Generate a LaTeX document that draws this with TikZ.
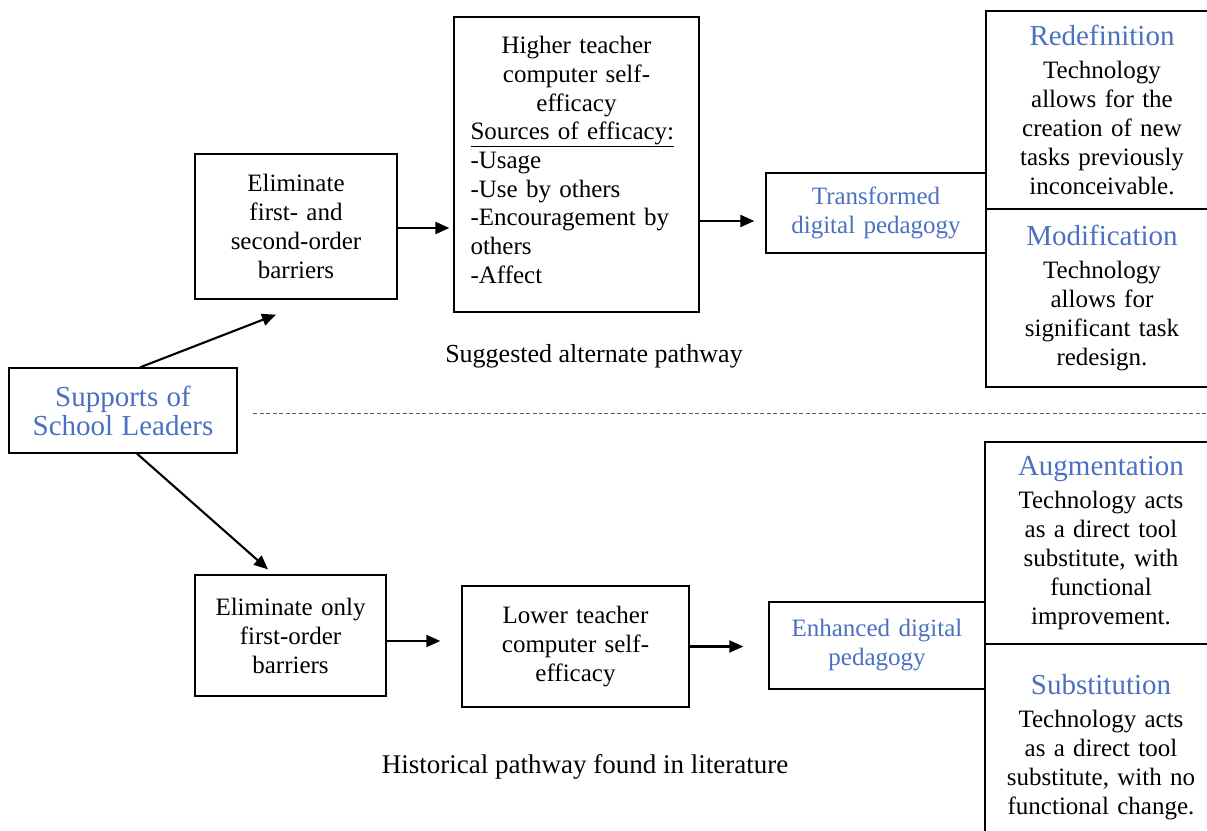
\documentclass[tikz,border=0pt]{standalone}
\usepackage{fontspec}
\setmainfont{Liberation Serif}
\usetikzlibrary{arrows.meta}
\definecolor{tblue}{RGB}{74,112,193}
\definecolor{dashgray}{RGB}{90,90,90}
\newcommand{\bodyfont}{\fontsize{25}{29}\selectfont}
\newcommand{\ttlfont}{\fontsize{29}{33}\selectfont\color{tblue}}
\begin{document}
\begin{tikzpicture}[x=1pt,y=-1pt,
  box/.style={draw, line width=1.3pt, inner sep=0pt, align=center, font=\bodyfont},
  arr/.style={line width=2.1pt, -{Triangle[length=14pt,width=12pt]}},
  lbl/.style={inner sep=0pt, font=\fontsize{26}{30}\selectfont}]
\useasboundingbox (0,0) rectangle (1207,830);
% top pathway
\node[box, minimum width=228pt, minimum height=85pt, text width=220pt] (sup) at (123,410.5)
  {\ttlfont Supports of\\School Leaders};
\node[box, minimum width=202pt, minimum height=145pt, text width=194pt] (e1) at (296,226.5)
  {Eliminate\\first- and\\second-order\\barriers};
\node[box, minimum width=245pt, minimum height=295pt, text width=212pt, align=left] (hi) at (576.5,164.5)
  {\fontsize{25}{28.7}\selectfont\centering Higher teacher\\computer self-\\efficacy\par
   \raggedright\underline{Sources of efficacy:}\\-Usage\\-Use by others\\-Encouragement by\\others\\-Affect\par\nointerlineskip\hbox{\rule{0pt}{9pt}}};
\node[box, minimum width=220pt, minimum height=80pt, text width=212pt] (tr) at (876,213)
  {\color{tblue}Transformed\\digital pedagogy};
\node[box, minimum width=232pt, minimum height=198pt, text width=224pt] (rd) at (1102,110)
  {{\ttlfont Redefinition}\\[4pt]Technology\\allows for the\\creation of new\\tasks previously\\inconceivable.};
\node[box, minimum width=232pt, minimum height=178pt, text width=224pt] (md) at (1102,298)
  {{\ttlfont Modification}\\[4pt]Technology\\allows for\\significant task\\redesign.};
\node[lbl] (sap) at (594,356) {Suggested alternate pathway};
% separator
\coordinate (dl) at (253,413);
\coordinate (dr) at (1207,413);
\draw[dashgray, line width=0.9pt, dash pattern=on 4pt off 2.5pt] (dl) -- (dr);
% bottom pathway
\node[box, minimum width=191pt, minimum height=121pt, text width=183pt] (eo) at (290.5,635.5)
  {Eliminate only\\first-order\\barriers};
\node[box, minimum width=227pt, minimum height=121pt, text width=219pt] (lo) at (575.5,646.5)
  {Lower teacher\\computer self-\\efficacy};
\node[box, minimum width=216pt, minimum height=87pt, text width=208pt] (en) at (877,645.5)
  {\color{tblue}Enhanced digital\\pedagogy};
\node[box, minimum width=232pt, minimum height=202pt, text width=224pt] (au) at (1101,543)
  {{\ttlfont Augmentation}\\[4pt]Technology acts\\as a direct tool\\substitute, with\\functional\\improvement.};
\node[box, minimum width=232pt, minimum height=206pt, text width=224pt] (sb) at (1101,747)
  {{\ttlfont Substitution}\\[4pt]Technology acts\\as a direct tool\\substitute, with no\\functional change.};
\node[lbl, font=\fontsize{27}{31}\selectfont] (hpl) at (585,767) {Historical pathway found in literature};
% connectors
\draw[arr] ([xshift=17pt]sup.north) -- ([xshift=-20pt,yshift=-15pt]e1.south);
\draw[arr] ([xshift=14pt]sup.south) -- ([xshift=-22.5pt,yshift=5pt]eo.north);
\draw[arr, shorten >=4pt] ([yshift=-1.5pt]e1.east) -- ([yshift=-1.5pt]e1.east -| hi.west);
\draw[arr, shorten >=11pt] ([yshift=-8pt]hi.east |- tr.west) -- ([yshift=-8pt]tr.west);
\draw[arr, shorten >=21pt] ([yshift=-5.5pt]eo.east) -- ([yshift=-5.5pt]eo.east -| lo.west);
\draw[arr, shorten >=25pt] (lo.east) -- (lo.east -| en.west);
\end{tikzpicture}
\end{document}
